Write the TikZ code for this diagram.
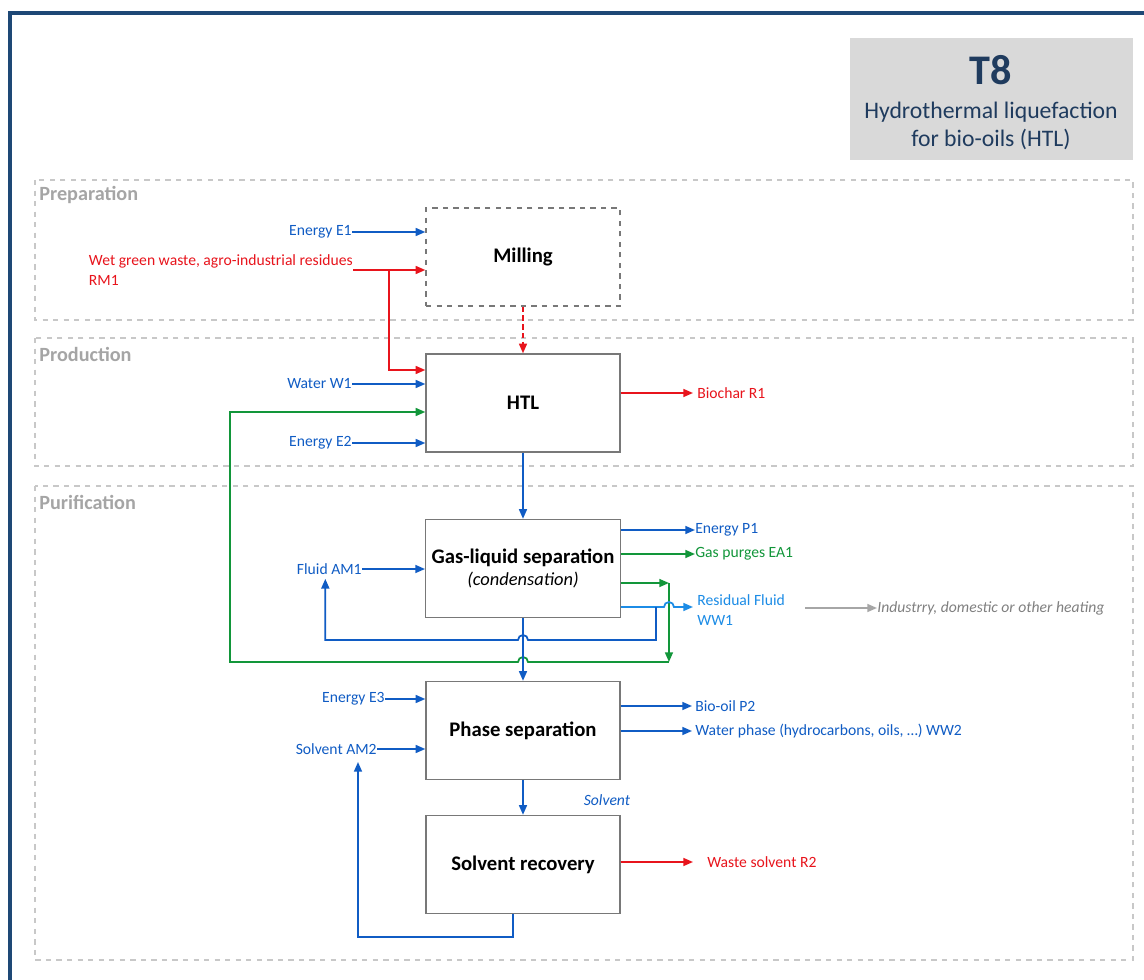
\documentclass[tikz,border=0pt]{standalone}
\usepackage{fontspec}
\setmainfont{Carlito}
\usetikzlibrary{arrows.meta, positioning, calc}
\definecolor{flowblue}{RGB}{16,92,196}
\definecolor{lightblue}{RGB}{28,140,230}
\definecolor{flowred}{RGB}{232,20,28}
\definecolor{flowgreen}{RGB}{18,150,58}
\definecolor{procgray}{RGB}{120,120,120}
\definecolor{secgray}{RGB}{200,200,200}
\definecolor{labgray}{RGB}{165,165,165}
\definecolor{heatgray}{RGB}{128,128,128}
\definecolor{titleblue}{RGB}{31,59,94}
\definecolor{framecol}{RGB}{30,72,118}
\definecolor{titlefill}{RGB}{217,217,217}

\begin{document}
\begin{tikzpicture}[
  x=0.02cm, y=-0.02cm,
  >={Triangle[length=5.5pt,width=4.5pt]},
  font=\fontsize{8.9}{11.3}\selectfont,
  proc/.style={draw=procgray, line width=0.8pt, minimum width=3.88cm, minimum height=1.96cm, align=center, font=\fontsize{11.8}{13}\selectfont\bfseries},
  section/.style={draw=secgray, dashed, line width=0.6pt},
  seclabel/.style={anchor=west, inner sep=0pt, text=labgray, font=\fontsize{11.5}{13}\selectfont\bfseries},
  inlbl/.style={anchor=east, inner sep=0pt, text=flowblue},
  outlbl/.style={anchor=west, inner sep=0pt, text=flowblue},
  flow/.style={->, line width=1pt, draw=flowblue},
  redflow/.style={flow, draw=flowred},
  greenflow/.style={flow, draw=flowgreen},
  lightflow/.style={flow, draw=lightblue},
  grayflow/.style={flow, draw=heatgray!70}
]
\useasboundingbox[fill=white] (0,0) rectangle (1144,980);

% frame and title
\draw[framecol, line width=2.3pt] (10,985) -- (10,13) -- (1150,13);
\node[fill=titlefill, minimum width=5.66cm, minimum height=2.44cm, anchor=north east] (title) at (1133,38) {};
\node[text=titleblue, font=\fontsize{24}{28}\selectfont\bfseries] (tcode) at (991,70) {T8};
\node[text=titleblue, align=center, font=\fontsize{13.5}{16.4}\selectfont] (tname) at (991,126) {Hydrothermal liquefaction\\for bio-oils (HTL)};

% SECTIONS
\draw[section] (35,180) rectangle (1133,320);
\draw[section] (35,338) rectangle (1133,466);
\draw[section] (35,486) rectangle (1133,960);
\node[seclabel] (prep) at (39,195) {Preparation};
\node[seclabel] (prod) at (39,354) {Production};
\node[seclabel] (puri) at (39,502) {Purification};

% PROCESS BOXES
\node[proc, dashed] (mill) at (523,257) {Milling};
\node[proc] (htl) at (523,403) {HTL};
\node[proc] (gls) at (523,568.5) {Gas-liquid separation\\[-1pt]{\mdseries\itshape\fontsize{10.5}{12}\selectfont (condensation)}};
\node[proc] (phase) at (523,730.5) {Phase separation};
\node[proc] (solv) at (523,864.5) {Solvent recovery};

% PREPARATION
\node[inlbl] (e1) at (352,232) {Energy E1};
\draw[flow] (e1.east) -- (e1.east -| mill.west);
\node[anchor=north east, align=left, inner sep=0pt, text=flowred] (rm1) at (353,254) {Wet green waste, agro-industrial residues\\RM1};
\coordinate (rm1out) at ($(rm1.north east)+(0,16)$);
\coordinate (rmsplit) at ($(rm1out)+(36,0)$);
\draw[redflow] (rm1out) -- (rm1out -| mill.west);
\draw[redflow] (rmsplit) |- ($(htl.west)+(0,-33)$);
\draw[redflow, densely dashed] (mill) -- (htl);

% PRODUCTION
\node[inlbl] (w1) at (352,384) {Water W1};
\draw[flow] (w1.east) -- (w1.east -| htl.west);
\node[inlbl] (e2) at (352,443) {Energy E2};
\draw[flow] (e2.east) -- (e2.east -| htl.west);
\node[outlbl, text=flowred] (r1) at (697,393) {Biochar R1};
\draw[redflow] (r1.west -| htl.east) -- ($(r1.west)+(-4,0)$);
\draw[flow] (htl) -- (gls);

% PURIFICATION - gas-liquid separation
\node[inlbl] (am1) at (362,569) {Fluid AM1};
\draw[flow] (am1.east) -- (am1.east -| gls.west);
\node[outlbl] (p1) at (695,530) {Energy P1};
\draw[flow] (p1.west -| gls.east) -- (p1.west);
\node[outlbl, text=flowgreen] (ea1) at (695,554) {Gas purges EA1};
\draw[greenflow] (ea1.west -| gls.east) -- (ea1.west);
\node[outlbl, align=left, text=lightblue] (ww1) at (697,610) {Residual Fluid\\WW1};
\node[outlbl, text=heatgray, font=\fontsize{8.9}{11.3}\selectfont\itshape] (heat) at (877,608) {Industrry, domestic or other heating};
\draw[grayflow] ($(heat.west)+(-72,0)$) -- (heat.west);

% green recycle to HTL
\coordinate (g1) at ($(gls.east)+(48,14.5)$);
\coordinate (g2) at ($(g1)+(0,79)$);
\coordinate (gx) at (gls.south |- g2);
\coordinate (gleft) at (230,662);
\draw[greenflow] (g1 -| gls.east) -- (g1);
\draw[greenflow] (g1) -- (g2);
\draw[greenflow] (g2) -- ($(gx)+(5,0)$) arc[start angle=0, end angle=-180, radius=5] -- (gleft) |- ($(htl.west)+(0,9)$);

% residual fluid and blue recycle to AM1
\coordinate (wl) at ($(gls.east)+(0,38.5)$);
\coordinate (wsplit) at ($(wl)+(35,0)$);
\coordinate (bx) at (gls.south |- 0,640);
\draw[lightflow] (wl) -- ($(g1 |- wl)+(-5,0)$) arc[start angle=180, end angle=360, radius=5] -- ($(ww1.west |- wl)+(-4,0)$);
\draw[flow] (wsplit) |- ($(bx)+(5,0)$) arc[start angle=0, end angle=-180, radius=5] -| ($(am1.south)+(-4,4)$);
\draw[flow] (gls) -- (phase);

% PURIFICATION - phase separation
\node[inlbl] (e3) at (385,699) {Energy E3};
\draw[flow] (e3.east) -- (e3.east -| phase.west);
\node[inlbl] (am2) at (377,749) {Solvent AM2};
\draw[flow] (am2.east) -- (am2.east -| phase.west);
\node[outlbl] (p2) at (695,706) {Bio-oil P2};
\draw[flow] (p2.west -| phase.east) -- ($(p2.west)+(-3,0)$);
\node[outlbl] (ww2) at (695,731) {Water phase (hydrocarbons, oils, \dots) WW2};
\draw[flow] (ww2.west -| phase.east) -- ($(ww2.west)+(-3,0)$);
\draw[flow] (phase) -- (solv);
\node[text=flowblue, inner sep=0pt, font=\fontsize{8.9}{11.3}\selectfont\itshape] (solvlbl) at (607,800) {Solvent};

% PURIFICATION - solvent recovery
\node[outlbl, text=flowred] (r2) at (707,862) {Waste solvent R2};
\draw[redflow] (r2.west -| solv.east) -- ($(r2.west)+(-14,0)$);
\coordinate (amret) at (358,762);
\draw[flow] ($(solv.south)+(-10,0)$) |- ($(amret)+(0,175)$) -- (amret);

\end{tikzpicture}
\end{document}
